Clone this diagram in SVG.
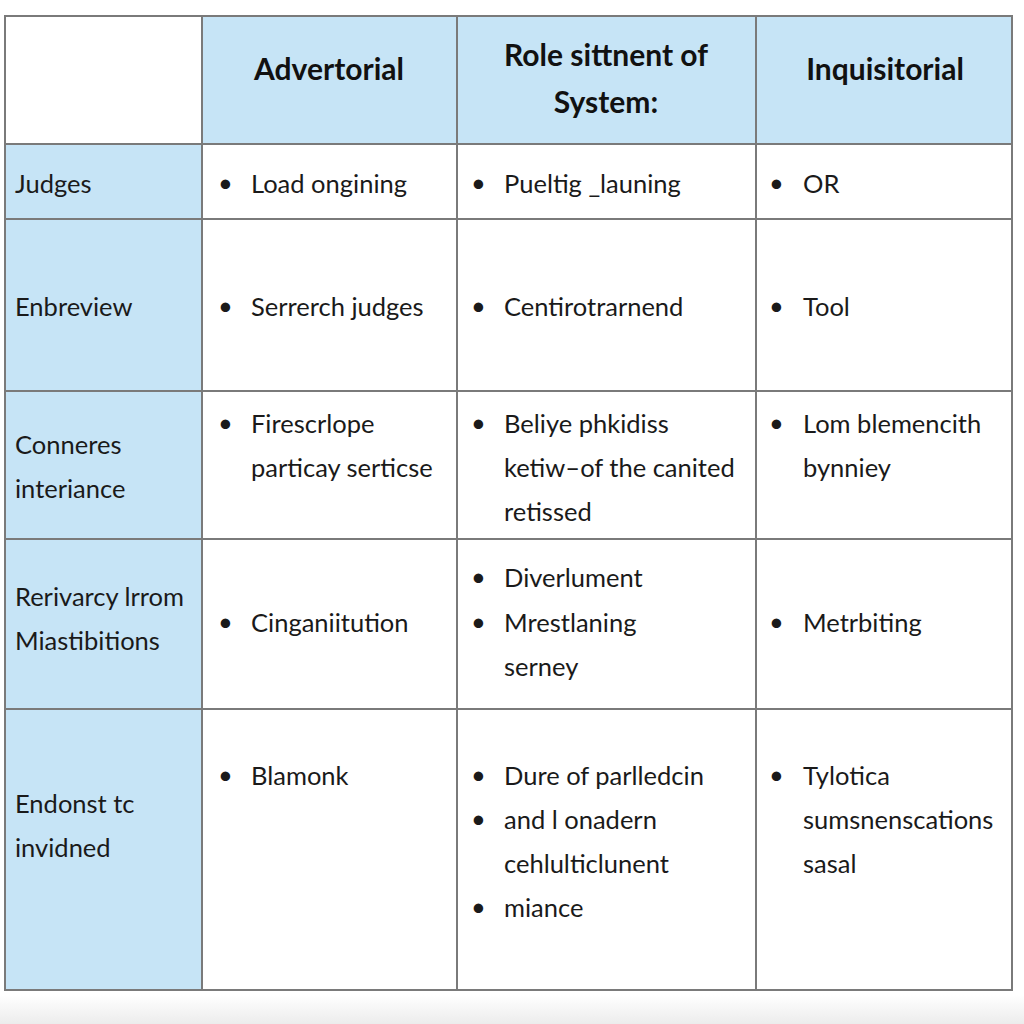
<svg xmlns="http://www.w3.org/2000/svg" width="1024" height="1024" viewBox="0 0 1024 1024">
<defs>
<style>
.t{font-family:Lato,"Open Sans","Liberation Sans",sans-serif;font-size:25.5px;fill:#1a1a1a}
.h{font-family:Lato,"Open Sans","Liberation Sans",sans-serif;font-size:30px;font-weight:bold;fill:#111;text-anchor:middle}
.blue{fill:#c6e4f6}
.ln{stroke:#7a7a7a;stroke-width:2;fill:none}
</style>
<linearGradient id="bot" x1="0" y1="0" x2="0" y2="1">
<stop offset="0" stop-color="#ffffff"/>
<stop offset="1" stop-color="#ececec"/>
</linearGradient>
</defs>
<rect width="1024" height="1024" fill="#ffffff"/>
<rect x="0" y="995" width="1024" height="29" fill="url(#bot)"/>
<g id="backgrounds">
<rect class="blue" x="202" y="16" width="810" height="128"/>
<rect class="blue" x="5" y="144" width="197" height="846"/>
</g>
<g id="grid">
<rect class="ln" x="5" y="16" width="1007" height="974"/>
<line class="ln" x1="202" y1="16" x2="202" y2="990"/>
<line class="ln" x1="457" y1="16" x2="457" y2="990"/>
<line class="ln" x1="756" y1="16" x2="756" y2="990"/>
<line class="ln" x1="5" y1="144" x2="1012" y2="144"/>
<line class="ln" x1="5" y1="219" x2="1012" y2="219"/>
<line class="ln" x1="5" y1="391" x2="1012" y2="391"/>
<line class="ln" x1="5" y1="539" x2="1012" y2="539"/>
<line class="ln" x1="5" y1="709" x2="1012" y2="709"/>
</g>
<g id="header">
<text class="h" x="329" y="80">Advertorial</text>
<text class="h" x="606" y="66">Role sittnent of</text>
<text class="h" x="606" y="113">System:</text>
<text class="h" x="885" y="80">Inquisitorial</text>
</g>
<g id="row1">
<text class="t" x="15" y="193">Judges</text>
<text class="t" x="218" y="192">•</text><text class="t" x="251" y="193">Load ongining</text>
<text class="t" x="471" y="192">•</text><text class="t" x="504" y="193">Pueltig _launing</text>
<text class="t" x="769" y="192">•</text><text class="t" x="803" y="193">OR</text>
</g>
<g id="row2">
<text class="t" x="15" y="316">Enbreview</text>
<text class="t" x="218" y="315">•</text><text class="t" x="251" y="316">Serrerch judges</text>
<text class="t" x="471" y="315">•</text><text class="t" x="504" y="316">Centirotrarnend</text>
<text class="t" x="769" y="315">•</text><text class="t" x="803" y="316">Tool</text>
</g>
<g id="row3">
<text class="t" x="15" y="454">Conneres</text>
<text class="t" x="15" y="498">interiance</text>
<text class="t" x="218" y="432">•</text><text class="t" x="251" y="433">Firescrlope</text>
<text class="t" x="251" y="477">particay serticse</text>
<text class="t" x="471" y="432">•</text><text class="t" x="504" y="433">Beliye phkidiss</text>
<text class="t" x="504" y="477">ketiw–of the canited</text>
<text class="t" x="504" y="521">retissed</text>
<text class="t" x="769" y="432">•</text><text class="t" x="803" y="433">Lom blemencith</text>
<text class="t" x="803" y="477">bynniey</text>
</g>
<g id="row4">
<text class="t" x="15" y="606">Rerivarcy lrrom</text>
<text class="t" x="15" y="650">Miastibitions</text>
<text class="t" x="218" y="631">•</text><text class="t" x="251" y="632">Cinganiitution</text>
<text class="t" x="471" y="586">•</text><text class="t" x="504" y="587">Diverlument</text>
<text class="t" x="471" y="631">•</text><text class="t" x="504" y="632">Mrestlaning</text>
<text class="t" x="504" y="676">serney</text>
<text class="t" x="769" y="631">•</text><text class="t" x="803" y="632">Metrbiting</text>
</g>
<g id="row5">
<text class="t" x="15" y="813">Endonst tc</text>
<text class="t" x="15" y="857">invidned</text>
<text class="t" x="218" y="784">•</text><text class="t" x="251" y="785">Blamonk</text>
<text class="t" x="471" y="784">•</text><text class="t" x="504" y="785">Dure of parlledcin</text>
<text class="t" x="471" y="828">•</text><text class="t" x="504" y="829">and l onadern</text>
<text class="t" x="504" y="873">cehlulticlunent</text>
<text class="t" x="471" y="916">•</text><text class="t" x="504" y="917">miance</text>
<text class="t" x="769" y="784">•</text><text class="t" x="803" y="785">Tylotica</text>
<text class="t" x="803" y="829">sumsnenscations</text>
<text class="t" x="803" y="873">sasal</text>
</g>
</svg>
